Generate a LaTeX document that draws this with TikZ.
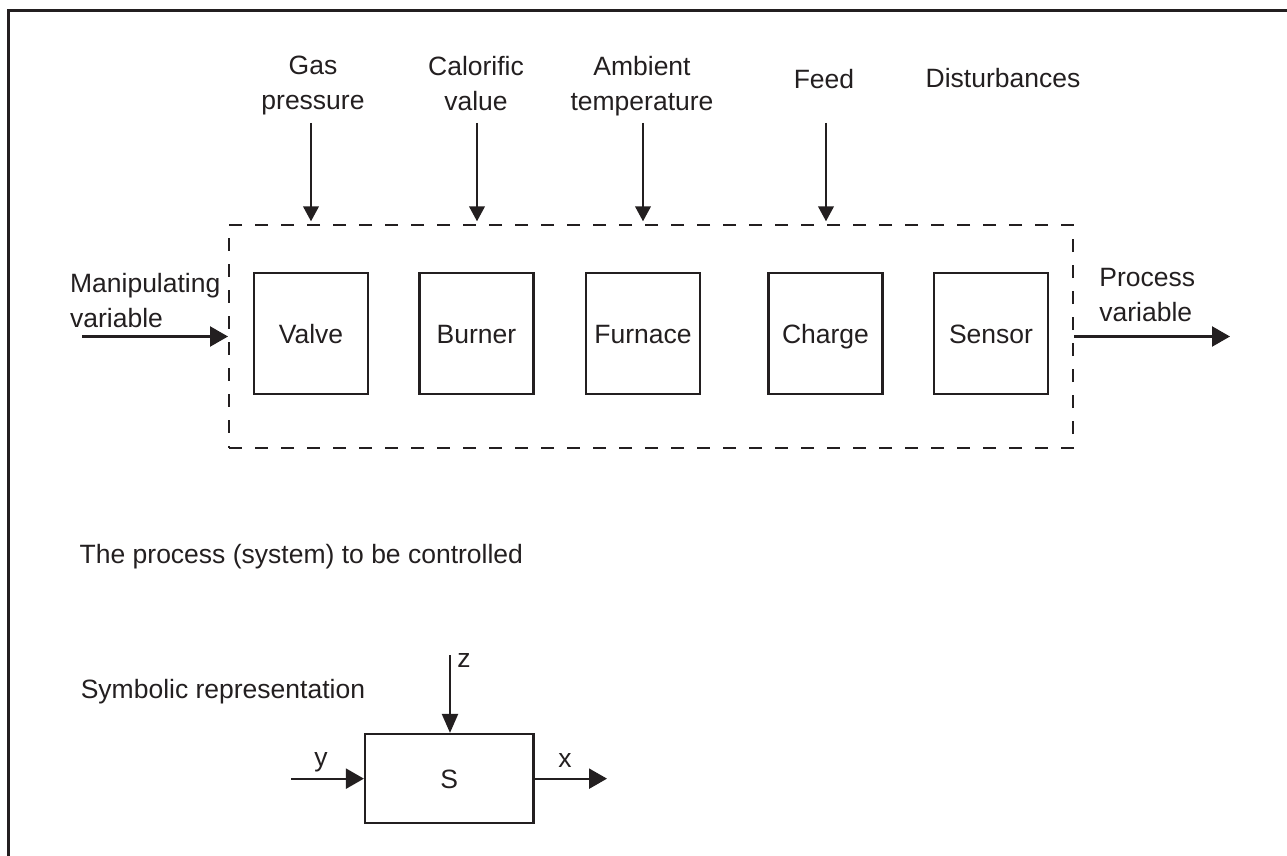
\documentclass[tikz,border=0pt]{standalone}
\usepackage{fontspec}
\setmainfont{Liberation Sans}
\usetikzlibrary{arrows.meta}
\definecolor{ink}{RGB}{35,31,32}
\begin{document}
\begin{tikzpicture}[x=0.5pt,y=-0.5pt,
  every node/.style={font=\fontsize{13.25}{17.5}\selectfont, text=ink, inner sep=0pt},
  blk/.style={draw=ink, line width=1.1pt, minimum width=57pt, minimum height=60.5pt, text height=9.5pt, text depth=0pt},
  arr/.style={draw=ink, line width=1.1pt, -{Triangle[length=7.5pt,width=7.8pt]}},
  arrh/.style={draw=ink, line width=1.15pt, -{Triangle[length=9pt,width=10pt]}},
  arrz/.style={draw=ink, line width=1.1pt, -{Triangle[length=9.5pt,width=8pt]}},
  lbl/.style={align=center, anchor=north},
  lbll/.style={align=left, anchor=north west}]
\useasboundingbox (0,0) rectangle (1287,856);
% frame
\draw[ink, line width=1.4pt] (8.7,866) -- (8.7,10.7) -- (1297,10.7);
% process boundary
\node[draw=ink, line width=1pt, dash pattern=on 6.5pt off 6.5pt, minimum width=422.2pt, minimum height=111.2pt] (proc) at (651.2,336.5) {};
% blocks
\node[blk] (valve) at (311,333.7) {Valve};
\node[blk] (burner) at (476.5,333.7) {Burner};
\node[blk] (furnace) at (643,333.7) {Furnace};
\node[blk] (charge) at (825.5,333.7) {Charge};
\node[blk] (sensor) at (991,333.7) {Sensor};
% disturbance labels
\node[lbl] (gas) at (313,55.5) {Gas\\pressure};
\node[lbl] (cal) at (476,55.5) {Calorific\\value};
\node[lbl] (amb) at (642,55.5) {Ambient\\temperature};
\node[lbl] (feed) at (824,68.5) {Feed};
\node[lbl] (dist) at (1003,67.5) {Disturbances};
\node[lbll] (mv) at (69.7,272.5) {Manipulating\\variable};
\node[lbll] (pv) at (1099,268) {Process\\variable};
\node[anchor=base west] (title) at (79.3,563) {The process (system) to be controlled};
\node[anchor=base west] (symb) at (80.4,698) {Symbolic representation};
% disturbance arrows
\coordinate (gasT) at (311,123);
\coordinate (calT) at (477,123);
\coordinate (ambT) at (643,123);
\coordinate (feedT) at (826,123);
\draw[arr] (gasT) -- ([yshift=1.5pt]gasT |- proc.north);
\draw[arr] (calT) -- ([yshift=1.5pt]calT |- proc.north);
\draw[arr] (ambT) -- ([yshift=1.5pt]ambT |- proc.north);
\draw[arr] (feedT) -- ([yshift=1.5pt]feedT |- proc.north);
% input / output
\coordinate (mvS) at (82,336.5);
\coordinate (pvE) at (1230,336.5);
\draw[arrh] (mvS) -- (proc.west);
\draw[arrh] (proc.east) -- (pvE);
% symbolic block
\node[blk, minimum width=84.25pt, minimum height=44.65pt] (sbox) at (449.25,778.65) {S};
\coordinate (zT) at (450,655);
\coordinate (yS) at (291,778.65);
\coordinate (xE) at (607,778.65);
\draw[arrz] (zT) -- (zT |- sbox.north);
\draw[arrh] (yS) -- (sbox.west);
\draw[arrh] (sbox.east) -- (xE);
\node[anchor=base west] (zl) at (457,667) {z};
\node[anchor=base] (yl) at (321,766) {y};
\node[anchor=base] (xl) at (565,767) {x};
\end{tikzpicture}
\end{document}
